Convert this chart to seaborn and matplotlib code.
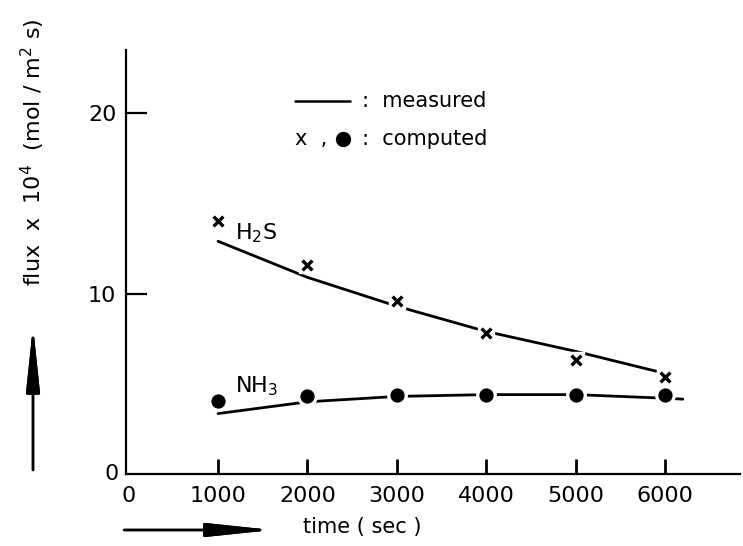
import matplotlib
matplotlib.use("Agg")
import matplotlib.pyplot as plt
from matplotlib.lines import Line2D
import seaborn as sns
import pandas as pd

sns.set_style("ticks")
plt.rcParams['font.family'] = ['DejaVu Sans']
for k in ['text.color', 'axes.labelcolor', 'xtick.color', 'ytick.color', 'axes.edgecolor']:
    plt.rcParams[k] = 'black'

# computed values (markers)
time_computed = [1000, 2000, 3000, 4000, 5000, 6000]
h2s_computed = [14.0, 11.6, 9.6, 7.8, 6.3, 5.4]
nh3_computed = [4.05, 4.3, 4.4, 4.4, 4.4, 4.4]

# measured curves (solid lines)
time_h2s_meas = [1000, 2000, 3000, 4000, 5000, 5900]
h2s_measured = [12.9, 10.9, 9.3, 7.9, 6.8, 5.7]
time_nh3_meas = [1000, 2000, 3000, 4000, 5000, 6000, 6200]
nh3_measured = [3.35, 4.0, 4.3, 4.4, 4.4, 4.2, 4.15]

W, H = 743, 546


def px(x, y):
    # pixel position (from top-left) -> figure fraction
    return x / W, 1 - y / H


fig = plt.figure(figsize=(W / 100, H / 100), dpi=100)
ax = fig.add_axes([126 / W, 1 - 474 / H, (740 - 126) / W, (474 - 50) / H])

meas_h2s = pd.DataFrame({'t': time_h2s_meas, 'flux': h2s_measured})
meas_nh3 = pd.DataFrame({'t': time_nh3_meas, 'flux': nh3_measured})
comp = pd.DataFrame({'t': time_computed, 'h2s': h2s_computed, 'nh3': nh3_computed})

sns.lineplot(data=meas_h2s, x='t', y='flux', color='black', lw=2, ax=ax, zorder=2)
sns.lineplot(data=meas_nh3, x='t', y='flux', color='black', lw=2, ax=ax, zorder=2)

# white halo so the lines break around the markers
ax.plot(comp['t'], comp['h2s'], ls='none', marker='s', ms=12, color='white', zorder=3)
ax.plot(comp['t'], comp['nh3'], ls='none', marker='o', ms=14, color='white', zorder=3)
sns.scatterplot(data=comp, x='t', y='h2s', marker='x', s=50, color='black',
                linewidth=2.4, ax=ax, zorder=4)
sns.scatterplot(data=comp, x='t', y='nh3', marker='o', s=90, color='black',
                edgecolor='black', ax=ax, zorder=4)

ax.set_xlim(-30, 6840)
ax.set_ylim(0, 23.5)
ax.set_xticks([1000, 2000, 3000, 4000, 5000, 6000])
ax.set_yticks([10, 20])
ax.set_xlabel('')
ax.set_ylabel('')
ax.tick_params(axis='x', direction='in', length=11, width=2, labelsize=16, pad=9)
ax.tick_params(axis='y', direction='in', length=15, width=1.6, labelsize=16, pad=7)
for side in ['top', 'right']:
    ax.spines[side].set_visible(False)
for side in ['left', 'bottom']:
    ax.spines[side].set_linewidth(1.6)

# the zero labels sit at the corner without tick marks
ax.text(0, -0.028, '0', transform=ax.get_xaxis_transform(), ha='center', va='top', fontsize=16)
ax.text(-0.012, 0, '0', transform=ax.get_yaxis_transform(), ha='right', va='center', fontsize=16)

# curve labels
ax.text(1194, 13.0, 'H$_2$S', fontsize=16, ha='left', va='baseline')
ax.text(1194, 4.55, 'NH$_3$', fontsize=16, ha='left', va='baseline')

# legend written into the plot
fig.add_artist(Line2D([295 / W, 350 / W], [1 - 101 / H, 1 - 101 / H], color='black', lw=1.8))
fig.text(*px(362, 101), ':  measured', fontsize=15, va='center')
fig.text(*px(295, 139), 'x  ,', fontsize=15, va='center')
fig.add_artist(Line2D([343 / W], [1 - 139 / H], marker='o', ms=10, color='black'))
fig.text(*px(362, 139), ':  computed', fontsize=15, va='center')

# axis titles and arrows
fig.text(*px(33, 152), 'flux  x  10$^4$  (mol / m$^2$ s)', rotation=90,
         ha='center', va='center', fontsize=16)
fig.text(*px(362, 527), 'time ( sec )', ha='center', va='center', fontsize=15)

arrow = dict(arrowstyle='-|>,head_length=4.0,head_width=0.42', color='black',
             lw=1.8, shrinkA=0, shrinkB=0)
fig.add_artist(plt.annotate('', xy=px(33, 326), xytext=px(33, 470),
                            xycoords='figure fraction', textcoords='figure fraction',
                            arrowprops=arrow))
fig.add_artist(plt.annotate('', xy=px(272, 530), xytext=px(124, 530),
                            xycoords='figure fraction', textcoords='figure fraction',
                            arrowprops=arrow))

fig.savefig('out.png', dpi=100, facecolor='white')
